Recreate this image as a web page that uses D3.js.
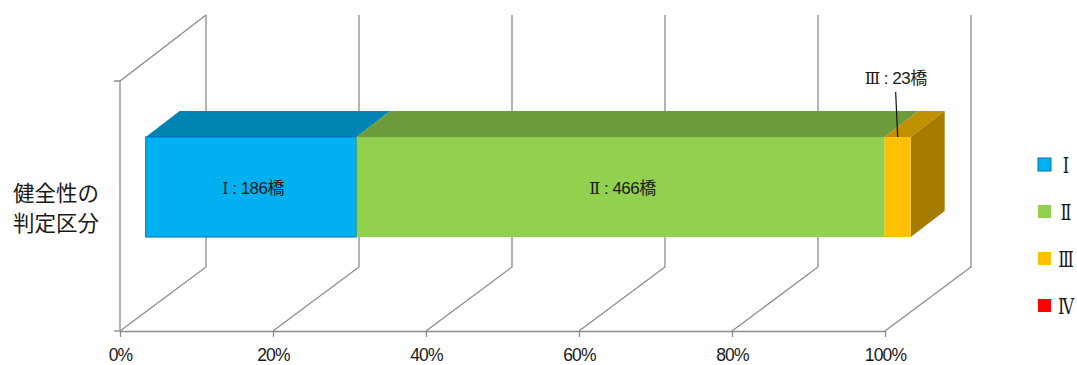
<!DOCTYPE html>
<html>
<head>
<meta charset="utf-8">
<script src="https://cdn.jsdelivr.net/npm/d3@7"></script>
<style>
html, body { margin: 0; padding: 0; background: #fff; }
text { fill: #1a1a1a; font-family: "Liberation Sans", "Noto Sans CJK JP", sans-serif; }
</style>
</head>
<body>
<div id="chart"></div>
<script>
var width = 1077;
var height = 365;

// data
var categories = ['Ⅰ', 'Ⅱ', 'Ⅲ', 'Ⅳ'];
var bridges = [186, 466, 23, 0];
var tickValues = [0, 20, 40, 60, 80, 100];
var axisTitle = ['健全性の', '判定区分'];

// colors
var frontColors = ['#00B0F0', '#92D050', '#FFC000', '#FF0000'];
var topColors = ['#0084B4', '#6E9C3C', '#BF9000', '#BF0000'];
var sideColors = ['#0070A0', '#5F8A34', '#A67C00', '#A60000'];
var gridColor = '#8c8c8c';

// floor goes back by this much in the picture
var backX = 86;
var backY = -64;
var floorY = 331;
var wallHeight = 250;

// bar front and back planes, as part of the floor depth
var barFront = 25.7 / 86;
var barBack = 59.7 / 86;
var barTop = 137;
var barBottom = 237;

var total = d3.sum(bridges);
var x = d3.scaleLinear().domain([0, 100]).range([120, 885]);
var pct = d3.scaleLinear().domain([0, total]).range([0, 100]);

var svg = d3.select('#chart').append('svg')
	.attr('width', width)
	.attr('height', height)
	.style('display', 'block');

//bar label: the roman numeral gets the serif face, the rest stays plain
function addBarLabel(g, px, py, i, v) {
	var label = g.append('text')
		.attr('x', px)
		.attr('y', py)
		.attr('dy', '.35em')
		.attr('text-anchor', 'middle')
		.style('font-size', '17px')
		.style('letter-spacing', '-0.5px');
	label.append('tspan')
		.style('font-family', '"DejaVu Serif", serif')
		.style('font-size', '16px')
		.text(categories[i]);
	label.append('tspan').text(' : ' + v + '橋');
}

/********************** WALLS AND FLOOR *************************/
var grid = svg.append('g').attr('fill', 'none').attr('stroke', gridColor).attr('stroke-width', 1.3);

tickValues.forEach(function(t) {
	var px = x(t);
	grid.append('path')
		.attr('d', d3.line()([
			[px, floorY],
			[px + backX, floorY + backY],
			[px + backX, floorY + backY - wallHeight - 2]
		]));
});

// left wall
grid.append('path').attr('d', d3.line()([
	[x(0) - 6, floorY - wallHeight],
	[x(0), floorY - wallHeight],
	[x(0) + backX, floorY + backY - wallHeight - 2]
]));
grid.append('path').attr('d', d3.line()([
	[x(0), floorY - wallHeight],
	[x(0), floorY]
]));
grid.append('path').attr('d', d3.line()([
	[x(0) - 6, floorY],
	[x(0), floorY]
]));

var axis = svg.append('g')
	.attr('transform', 'translate(0,' + floorY + ')')
	.call(d3.axisBottom(x)
		.tickValues(tickValues)
		.tickSizeInner(6)
		.tickSizeOuter(0)
		.tickPadding(11.5)
		.tickFormat(function(d) { return d + '%'; }));
axis.selectAll('path, line').attr('stroke', gridColor).attr('stroke-width', 1.3);
axis.selectAll('text')
	.style('font-size', '17.5px')
	.style('letter-spacing', '-0.8px')
	.style('font-family', '"Liberation Sans", sans-serif');

/*************************** BAR ************************/
var bar = svg.append('g');
var start = 0;

bridges.forEach(function(v, i) {
	var x0 = x(pct(start));
	var x1 = x(pct(start + v));
	start += v;
	if (v == 0) return;

	var fx0 = x0 + barFront * backX;
	var fx1 = x1 + barFront * backX;
	var dx = (barBack - barFront) * backX;
	var dy = -26;

	bar.append('path')
		.attr('fill', topColors[i])
		.attr('d', d3.line()([[fx0, barTop], [fx1, barTop], [fx1 + dx, barTop + dy], [fx0 + dx, barTop + dy]]) + 'Z');

	// only the last piece shows its side
	if (i == 2) {
		bar.append('path')
			.attr('fill', sideColors[i])
			.attr('d', d3.line()([[fx1, barTop], [fx1 + dx, barTop + dy], [fx1 + dx, barBottom + dy], [fx1, barBottom]]) + 'Z');
	}

	var rect = bar.append('rect')
		.attr('x', fx0)
		.attr('y', barTop)
		.attr('width', fx1 - fx0)
		.attr('height', barBottom - barTop)
		.attr('fill', frontColors[i]);
	if (i == 0) {
		rect.attr('stroke', '#0070C0').attr('stroke-width', 1);
	}

	if (i < 2) {
		addBarLabel(bar, (fx0 + fx1) / 2 + 2, (barTop + barBottom) / 2 + 1, i, v);
	} else {
		// leader line up to the label above the bar
		var mid = (fx0 + fx1) / 2;
		bar.append('line')
			.attr('x1', mid)
			.attr('y1', barTop)
			.attr('x2', mid - 2)
			.attr('y2', 92)
			.attr('stroke', '#111')
			.attr('stroke-width', 1.2);
		addBarLabel(bar, mid - 2, 78, i, v);
	}
});

/*************************** LABELS ************************/
axisTitle.forEach(function(t, i) {
	svg.append('text')
		.attr('x', 13)
		.attr('y', 193 + i * 30)
		.attr('dy', '.35em')
		.style('font-family', '"Noto Sans CJK JP", sans-serif')
		.style('font-size', '21.5px')
		.text(t);
});

var legend = svg.selectAll('.legend')
	.data(categories)
	.enter().append('g')
	.attr('class', 'legend')
	.attr('transform', function(d, i) { return 'translate(1038,' + (158 + i * 47) + ')'; });

legend.append('rect')
	.attr('width', 13)
	.attr('height', 13)
	.attr('fill', function(d, i) { return frontColors[i]; })
	.attr('stroke', function(d, i) { return i == 0 ? '#0070C0' : 'none'; });

// tall narrow numerals as in the original legend
legend.append('text')
	.attr('transform', 'translate(28,7) scale(0.85,1.15)')
	.attr('dy', '.35em')
	.attr('text-anchor', 'middle')
	.style('font-family', '"DejaVu Serif", serif')
	.style('font-size', '19px')
	.text(function(d) { return d; });
</script>
</body>
</html>
